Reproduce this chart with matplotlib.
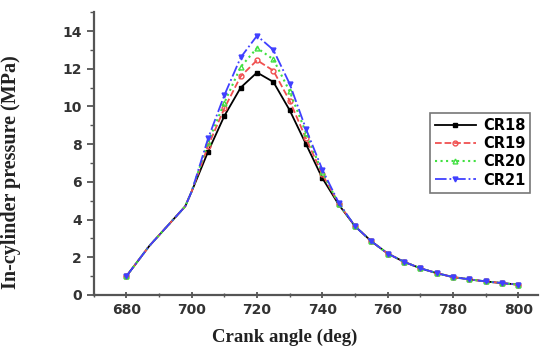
import numpy as np
import matplotlib
matplotlib.use("Agg")
import matplotlib.pyplot as plt
from matplotlib.ticker import MultipleLocator

# crank angle (deg)
angle = [680, 687, 698, 700, 705, 710, 715, 720, 725, 730, 735, 740, 745,
         750, 755, 760, 765, 770, 775, 780, 785, 790, 795, 800]

# common compression part / expansion tail
early = [1.0, 2.6, 4.7, 5.5]
tail = [3.65, 2.85, 2.2, 1.76, 1.42, 1.16, 0.95, 0.83, 0.72, 0.63, 0.55]

cr18 = early + [7.6, 9.5, 11.0, 11.8, 11.3, 9.8, 8.0, 6.2, 4.8] + tail
cr19 = early + [7.9, 9.9, 11.6, 12.45, 11.9, 10.3, 8.3, 6.4, 4.85] + tail
cr20 = early + [8.1, 10.2, 12.1, 13.1, 12.5, 10.8, 8.6, 6.5, 4.85] + tail
cr21 = early + [8.3, 10.6, 12.6, 13.75, 13.0, 11.2, 8.8, 6.65, 4.9] + tail

labels = ["CR18", "CR19", "CR20", "CR21"]

# markers on 680 and every 5 deg from 705
marks = [0] + list(range(4, len(angle)))

fig = plt.figure(figsize=(5.55, 3.58), dpi=100)
ax = fig.add_axes([0.169, 0.176, 0.80, 0.79])

ax.plot(angle, cr18, color="black", ls="-", lw=1.3, marker="s", ms=3.5,
        markevery=marks, label=labels[0])
ax.plot(angle, cr19, color="#f05050", ls="--", lw=1.3, marker="o", ms=3.5,
        mfc="none", markevery=marks, label=labels[1])
ax.plot(angle, cr20, color="#40e040", ls=":", lw=1.5, marker="^", ms=3.5,
        mfc="none", markevery=marks, label=labels[2])
ax.plot(angle, cr21, color="#4040ff", ls="-.", lw=1.3, marker="v", ms=3.5,
        markevery=marks, label=labels[3])

ax.set_xlim(670, 806)
ax.set_ylim(0, 15)
ax.xaxis.set_major_locator(MultipleLocator(20))
ax.xaxis.set_minor_locator(MultipleLocator(10))
ax.yaxis.set_major_locator(MultipleLocator(2))
ax.yaxis.set_minor_locator(MultipleLocator(1))

for s in ["top", "right"]:
    ax.spines[s].set_visible(False)
for s in ["left", "bottom"]:
    ax.spines[s].set_linewidth(1.6)
    ax.spines[s].set_color("#555555")

ax.tick_params(axis="x", which="both", direction="inout", color="#555555")
ax.tick_params(axis="y", which="both", direction="out", color="#555555")
ax.tick_params(which="major", length=5, width=1.3)
ax.tick_params(which="minor", length=3, width=1.0)

for lab in ax.get_xticklabels() + ax.get_yticklabels():
    lab.set_fontfamily("DejaVu Sans")
    lab.set_fontweight("bold")
    lab.set_fontsize(10)
    lab.set_color("#333333")

ax.set_xlabel("Crank angle (deg)", family="Liberation Serif", fontweight="bold",
              fontsize=13.5, color="#222222")
ax.xaxis.set_label_coords(0.43, -0.12)
ax.set_ylabel("In-cylinder pressure (MPa)", family="Liberation Serif",
              fontweight="bold", fontsize=14.5, color="#222222")
ax.yaxis.set_label_coords(-0.165, 0.435)

leg = ax.legend(loc="upper left", bbox_to_anchor=(0.74, 0.67), fancybox=False,
                framealpha=1, edgecolor="#777777", handlelength=2.8,
                borderpad=0.35, labelspacing=0.22, handletextpad=0.5,
                prop={"family": "DejaVu Sans", "weight": "bold", "size": 10.5})
leg.get_frame().set_linewidth(1.2)

fig.savefig("out.png", dpi=100)
